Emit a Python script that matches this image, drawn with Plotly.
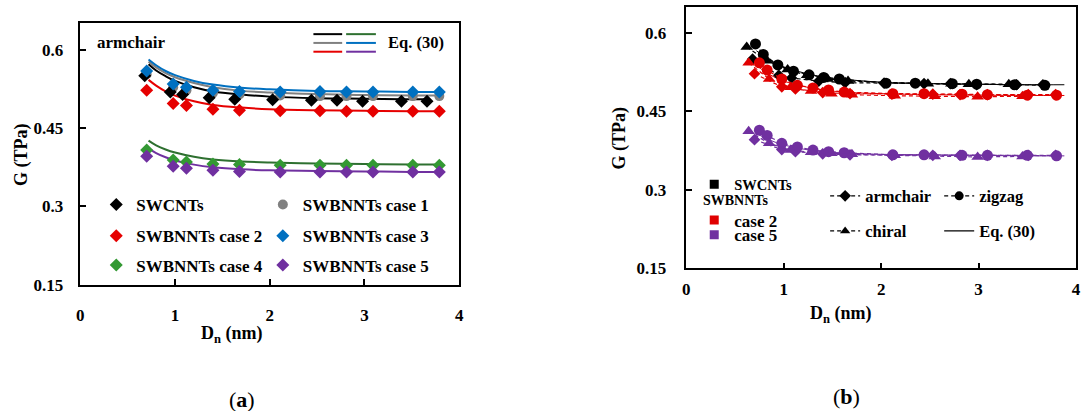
import plotly.graph_objects as go

FONT = "Liberation Serif"
W, H = 1086, 411

# ---------------- Panel (a): armchair tubes ----------------
ac_x_cnt = [0.68, 0.95, 1.08, 1.36, 1.63, 2.03, 2.44, 2.71, 2.98, 3.39, 3.66]
ac_x_bn = [0.70, 0.98, 1.12, 1.40, 1.68, 2.11, 2.53, 2.81, 3.09, 3.51, 3.79]

G_swcnt = [0.550, 0.519, 0.514, 0.508, 0.505, 0.504, 0.503, 0.503, 0.501, 0.501, 0.501]
G_case1 = [0.553, 0.528, 0.522, 0.517, 0.514, 0.512, 0.511, 0.511, 0.511, 0.511, 0.511]
G_case2 = [0.522, 0.497, 0.493, 0.486, 0.484, 0.483, 0.483, 0.482, 0.482, 0.482, 0.482]
G_case3 = [0.559, 0.534, 0.528, 0.522, 0.520, 0.519, 0.520, 0.519, 0.519, 0.519, 0.519]
G_case4 = [0.408, 0.389, 0.385, 0.381, 0.380, 0.379, 0.379, 0.379, 0.379, 0.379, 0.379]
G_case5 = [0.396, 0.377, 0.373, 0.369, 0.367, 0.366, 0.366, 0.366, 0.366, 0.366, 0.366]

eq_x = [0.72, 0.8, 0.9, 1.0, 1.2, 1.4, 1.7, 2.0, 2.5, 3.0, 3.5, 3.8]
eq_x_cnt = [0.72, 0.8, 0.9, 1.0, 1.2, 1.4, 1.7, 2.0, 2.5, 3.0, 3.4, 3.67]
eq_swcnt = [0.572, 0.560, 0.549, 0.540, 0.528, 0.520, 0.514, 0.510, 0.507, 0.506, 0.505, 0.505]
eq_case1 = [0.577, 0.566, 0.555, 0.547, 0.536, 0.528, 0.521, 0.518, 0.515, 0.513, 0.512, 0.512]
eq_case2 = [0.542, 0.531, 0.520, 0.512, 0.501, 0.494, 0.489, 0.486, 0.484, 0.483, 0.482, 0.482]
eq_case3 = [0.581, 0.570, 0.559, 0.551, 0.540, 0.533, 0.527, 0.524, 0.521, 0.520, 0.519, 0.519]
eq_case4 = [0.426, 0.417, 0.409, 0.403, 0.395, 0.390, 0.386, 0.384, 0.382, 0.381, 0.380, 0.380]
eq_case5 = [0.411, 0.402, 0.394, 0.388, 0.380, 0.375, 0.371, 0.369, 0.368, 0.367, 0.366, 0.366]

# ---------------- Panel (b): chirality ----------------
zz_x_cnt = [0.71, 0.79, 0.94, 1.10, 1.26, 1.41, 1.57, 2.05, 2.35, 2.73, 2.98, 3.37, 3.68]
zz_x_bn = [0.75, 0.83, 0.98, 1.14, 1.30, 1.46, 1.62, 2.12, 2.44, 2.83, 3.09, 3.50, 3.80]
G_cnt_zz = [0.579, 0.559, 0.539, 0.527, 0.520, 0.515, 0.512, 0.504, 0.504, 0.503, 0.502, 0.501, 0.500]
G_c2_zz = [0.543, 0.529, 0.512, 0.500, 0.495, 0.491, 0.487, 0.484, 0.484, 0.483, 0.482, 0.481, 0.481]
G_c5_zz = [0.414, 0.404, 0.389, 0.382, 0.376, 0.373, 0.371, 0.367, 0.367, 0.366, 0.366, 0.366, 0.365]

ch_x_cnt = [0.62, 0.83, 1.04, 1.24, 1.45, 1.66, 2.48, 2.72, 2.90, 3.31]
ch_x_bn = [0.64, 0.85, 1.07, 1.28, 1.49, 1.70, 2.14, 2.55, 2.99, 3.45]
G_cnt_ch = [0.573, 0.547, 0.530, 0.519, 0.512, 0.508, 0.503, 0.503, 0.502, 0.502]
G_c2_ch = [0.543, 0.512, 0.496, 0.489, 0.484, 0.482, 0.480, 0.479, 0.478, 0.479]
G_c5_ch = [0.412, 0.389, 0.376, 0.372, 0.370, 0.368, 0.366, 0.364, 0.363, 0.364]

eqR_x = [0.72, 0.8, 0.9, 1.0, 1.2, 1.4, 1.7, 2.0, 2.5, 3.0, 3.5, 3.88]
eqR_cnt = [0.566, 0.555, 0.544, 0.535, 0.524, 0.516, 0.510, 0.506, 0.503, 0.502, 0.501, 0.501]
eqR_c2 = [0.538, 0.527, 0.516, 0.508, 0.498, 0.491, 0.486, 0.484, 0.482, 0.481, 0.4805, 0.4805]
eqR_c5 = [0.408, 0.400, 0.392, 0.386, 0.378, 0.373, 0.370, 0.368, 0.367, 0.366, 0.365, 0.365]

y_ticks = [0.15, 0.3, 0.45, 0.6]
y_ticktext = ["0.15", "0.3", "0.45", "0.6"]
x_ticks = [0, 1, 2, 3, 4]

BLACK, GRAY, RED, BLUE, GREEN, PURPLE = "#000000", "#808080", "#E60000", "#0070C0", "#339933", "#7030A0"
GREEN_LINE = "#2E7030"
RED_B, PURPLE_B = "#E00000", "#7030A0"


def px(x):
    return x / W


def py(y):
    return 1 - y / H


fig = go.Figure()

# ---- panel (a) Eq. (30) lines ----
for xs, ys, c in [(eq_x, eq_case1, GRAY), (eq_x, eq_case3, BLUE), (eq_x_cnt, eq_swcnt, BLACK),
                  (eq_x, eq_case2, RED), (eq_x, eq_case4, GREEN_LINE), (eq_x, eq_case5, PURPLE)]:
    fig.add_trace(go.Scatter(x=xs, y=ys, mode="lines", line=dict(color=c, width=2, shape="spline"),
                             showlegend=False, xaxis="x", yaxis="y", hoverinfo="skip"))

# ---- panel (a) markers ----
series_a = [
    ("SWBNNTs case 1", ac_x_bn, G_case1, GRAY, "circle", "legend2"),
    ("SWCNTs", ac_x_cnt, G_swcnt, BLACK, "diamond", "legend"),
    ("SWBNNTs case 2", ac_x_bn, G_case2, RED, "diamond", "legend3"),
    ("SWBNNTs case 3", ac_x_bn, G_case3, BLUE, "diamond", "legend4"),
    ("SWBNNTs case 4", ac_x_bn, G_case4, GREEN, "diamond", "legend5"),
    ("SWBNNTs case 5", ac_x_bn, G_case5, PURPLE, "diamond", "legend6"),
]
for name, xs, ys, c, sym, lg in series_a:
    fig.add_trace(go.Scatter(x=xs, y=ys, mode="markers", name=name,
                             marker=dict(color=c, symbol=sym, size=10),
                             legend=lg, xaxis="x", yaxis="y"))

# ---- panel (b) ----
DASH = "4px,3px"
for xs, ys, c in [(eqR_x, eqR_cnt, BLACK), (eqR_x, eqR_c2, RED_B), (eqR_x, eqR_c5, PURPLE_B)]:
    fig.add_trace(go.Scatter(x=xs, y=ys, mode="lines", line=dict(color=c, width=1, shape="spline"),
                             showlegend=False, xaxis="x2", yaxis="y2", hoverinfo="skip"))

series_b = [
    (ac_x_cnt, G_swcnt, BLACK, "diamond"), (zz_x_cnt, G_cnt_zz, BLACK, "circle"), (ch_x_cnt, G_cnt_ch, BLACK, "triangle-up"),
    (ac_x_bn, G_case2, RED_B, "diamond"), (zz_x_bn, G_c2_zz, RED_B, "circle"), (ch_x_bn, G_c2_ch, RED_B, "triangle-up"),
    (ac_x_bn, G_case5, PURPLE_B, "diamond"), (zz_x_bn, G_c5_zz, PURPLE_B, "circle"), (ch_x_bn, G_c5_ch, PURPLE_B, "triangle-up"),
]
for xs, ys, c, sym in series_b:
    fig.add_trace(go.Scatter(x=xs, y=ys, mode="lines+markers",
                             line=dict(color=c, width=1.2, dash=DASH),
                             marker=dict(color=c, symbol=sym, size=9 if sym == "diamond" else 11),
                             showlegend=False, xaxis="x2", yaxis="y2"))

# legend-only entries for panel (b)
leg_b = [
    ("armchair", "lines+markers", "diamond", DASH, "legend7"),
    ("chiral", "lines+markers", "triangle-up", DASH, "legend8"),
    ("zigzag", "lines+markers", "circle", DASH, "legend9"),
    ("Eq. (30)", "lines", "circle", "solid", "legend10"),
]
for name, mode, sym, dash, lg in leg_b:
    fig.add_trace(go.Scatter(x=[None], y=[None], mode=mode, name=name,
                             line=dict(color=BLACK, width=1.2, dash=dash),
                             marker=dict(color=BLACK, symbol=sym, size=9),
                             legend=lg, xaxis="x2", yaxis="y2"))
for name, c, lg in [("SWCNTs", BLACK, "legend11"), ("case 2", RED_B, "legend12"), ("case 5", PURPLE_B, "legend13")]:
    fig.add_trace(go.Scatter(x=[None], y=[None], mode="markers", name=name,
                             marker=dict(color=c, symbol="square", size=9),
                             legend=lg, xaxis="x2", yaxis="y2"))

# ---- axes ----
def xaxis(domain, standoff, anchor):
    return dict(domain=domain, range=[0, 4], tickvals=x_ticks, ticks="inside", ticklen=6, tickwidth=1.5,
                tickcolor="black", showline=True, linecolor="black", linewidth=1.5, mirror=True,
                showgrid=False, zeroline=False, anchor=anchor, ticklabelstandoff=standoff,
                tickfont=dict(family=FONT, size=17, color="black", weight="bold"))


def yaxis(domain, standoff, anchor):
    return dict(domain=domain, range=[0.15, 0.65], tickvals=y_ticks, ticktext=y_ticktext, ticks="inside",
                ticklen=6, tickwidth=1.5, tickcolor="black", showline=True, linecolor="black", linewidth=1.5,
                mirror=True, showgrid=False, zeroline=False, anchor=anchor, ticklabelstandoff=standoff,
                tickfont=dict(family=FONT, size=17, color="black", weight="bold"))


def legend_at(xpx, ypx, size=17, weight="bold"):
    return dict(x=px(xpx), y=py(ypx + 5), xanchor="left", yanchor="middle", bgcolor="rgba(0,0,0,0)",
                borderwidth=0, font=dict(family=FONT, size=size, color="black", weight=weight),
                itemclick=False, itemdoubleclick=False)


layout = dict(
    width=W, height=H, margin=dict(l=0, r=0, t=0, b=0),
    paper_bgcolor="white", plot_bgcolor="white",
    xaxis=xaxis([px(77), px(459)], 14, "y"),
    yaxis=yaxis([py(292), py(24)], 12, "x"),
    xaxis2=xaxis([px(688), px(1081)], 5, "y2"),
    yaxis2=yaxis([py(275), py(7)], 15, "x2"),
    legend=legend_at(93, 205),
    legend2=legend_at(261, 205),
    legend3=legend_at(93, 237),
    legend4=legend_at(261, 237),
    legend5=legend_at(93, 267),
    legend6=legend_at(261, 267),
    legend7=legend_at(828, 196, 16.5),
    legend8=legend_at(828, 232, 16.5),
    legend9=legend_at(943, 196, 16.5),
    legend10=legend_at(943, 232, 16.5),
    legend11=legend_at(696, 184, 14.5),
    legend12=legend_at(696, 221, 17),
    legend13=legend_at(696, 236, 17),
)
fig.update_layout(**layout)

ann_font = dict(family=FONT, color="black", weight="bold")
annotations = [
    dict(text="armchair", x=px(92), y=py(44), xanchor="left", yanchor="middle", font=dict(size=17, **ann_font)),
    dict(text="Eq. (30)", x=px(385), y=py(44), xanchor="left", yanchor="middle", font=dict(size=16.5, **ann_font)),
    dict(text="G (TPa)", x=px(17), y=py(158), textangle=-90, xanchor="center", yanchor="middle", font=dict(size=18, **ann_font)),
    dict(text="G (TPa)", x=px(621), y=py(141), textangle=-90, xanchor="center", yanchor="middle", font=dict(size=18, **ann_font)),
    dict(text="D<sub>n</sub> (nm)", x=px(230), y=py(343), xanchor="center", yanchor="middle", font=dict(size=18, **ann_font)),
    dict(text="D<sub>n</sub> (nm)", x=px(844), y=py(322), xanchor="center", yanchor="middle", font=dict(size=18, **ann_font)),
    dict(text="SWBNNTs", x=px(703), y=py(205), xanchor="left", yanchor="middle", font=dict(size=14, **ann_font)),
    dict(text="(<b>a</b>)", x=px(240), y=py(409), xanchor="center", yanchor="middle", font=dict(family=FONT, size=22, color="black")),
    dict(text="(<b>b</b>)", x=px(850), y=py(406), xanchor="center", yanchor="middle", font=dict(family=FONT, size=22, color="black")),
]
for a in annotations:
    a.update(xref="paper", yref="paper", showarrow=False)
fig.update_layout(annotations=annotations)

# small key of Eq. (30) line colours (panel a)
shapes = []
key_rows = [(35, BLACK, GREEN_LINE), (44, GRAY, BLUE), (53, RED, PURPLE)]
for ypx, c1, c2 in key_rows:
    shapes.append(dict(type="line", x0=px(312), x1=px(341), y0=py(ypx), y1=py(ypx), line=dict(color=c1, width=2)))
    shapes.append(dict(type="line", x0=px(345), x1=px(375), y0=py(ypx), y1=py(ypx), line=dict(color=c2, width=2)))
for s in shapes:
    s.update(xref="paper", yref="paper")
fig.update_layout(shapes=shapes)

fig.write_html("out.html")
